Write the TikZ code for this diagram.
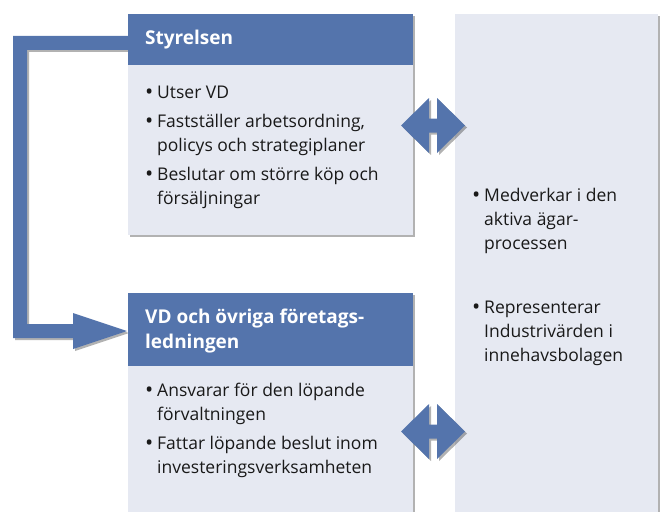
\documentclass[tikz,border=0pt]{standalone}
\usepackage{fontspec}
\setmainfont{Open Sans}
\usetikzlibrary{shadows}
\definecolor{hdr}{RGB}{84,116,172}
\definecolor{pane}{RGB}{230,233,242}
\newcommand\mybul{\makebox[12pt][l]{\raisebox{-1.2pt}{\scalebox{1.25}{\textbullet}}}}
\newcommand\myind{\hspace*{12pt}}
\tikzset{
  shd/.style={drop shadow={shadow xshift=2pt,shadow yshift=-2pt,opacity=.3,fill=black}},
  body/.style={fill=pane, draw=none, shd, anchor=north west, inner sep=0pt, outer sep=0pt},
  head/.style={fill=hdr, draw=none, anchor=north west, inner sep=0pt, outer sep=0pt},
  htext/.style={anchor=base west, inner sep=0pt, text=white, align=left,
    font=\bfseries\fontsize{19}{25}\selectfont},
  item/.style={anchor=base west, inner sep=0pt, align=left, text=black!90,
    font=\fontsize{17.5}{24}\selectfont},
  arr/.style={fill=hdr, shd},
}
\begin{document}
\begin{tikzpicture}[x=1pt,y=-1pt]
\useasboundingbox (0,0) rectangle (660,511);
\clip (0,0) rectangle (660,511);
% L-shaped arrow from Styrelsen to VD
\fill[arr] (13,36) -- (128,36) -- (128,50) -- (27,50) -- (27,324) -- (73,324)
  -- (73,313) -- (127,331) -- (73,349) -- (73,338) -- (13,338) -- cycle;
% boxes
\node[body, minimum width=203pt, minimum height=520pt] (own) at (455,14) {};
\node[body, minimum width=285pt, minimum height=221pt] (sty) at (128,14) {};
\node[head, minimum width=285pt, minimum height=51pt] (styh) at (128,14) {};
\node[body, minimum width=285pt, minimum height=230pt] (vd) at (128,293) {};
\node[head, minimum width=285pt, minimum height=73pt] (vdh) at (128,293) {};
% double arrows
\fill[arr, shift={(433,125.5)}] (-32,0) -- (-4,-27.5) -- (-4,-7) -- (4,-7) -- (4,-27.5)
  -- (32,0) -- (4,27.5) -- (4,7) -- (-4,7) -- (-4,27.5) -- cycle;
\fill[arr, shift={(433,431.5)}] (-32,0) -- (-4,-27.5) -- (-4,-7) -- (4,-7) -- (4,-27.5)
  -- (32,0) -- (4,27.5) -- (4,7) -- (-4,7) -- (-4,27.5) -- cycle;
% texts (multi-line nodes: base anchor is the baseline of the last line)
\node[htext] (t1) at (145,45) {Styrelsen};
\node[item] (s1) at (145,98) {\mybul Utser VD};
\node[item] (s2) at (145,151) {\mybul Fastställer arbetsordning,\\\myind policys och strategiplaner};
\node[item] (s3) at (145,204) {\mybul Beslutar om större köp och\\\myind försäljningar};
\node[htext] (t2) at (145,348) {VD och övriga företags-\\ledningen};
\node[item] (v1) at (145,420) {\mybul Ansvarar för den löpande\\\myind förvaltningen};
\node[item] (v2) at (145,473) {\mybul Fattar löpande beslut inom\\\myind investeringsverksamheten};
\node[item] (o1) at (472,249) {\mybul Medverkar i den\\\myind aktiva ägar-\\\myind processen};
\node[item] (o2) at (472,361) {\mybul Representerar\\\myind Industrivärden i\\\myind innehavsbolagen};
\end{tikzpicture}
\end{document}
